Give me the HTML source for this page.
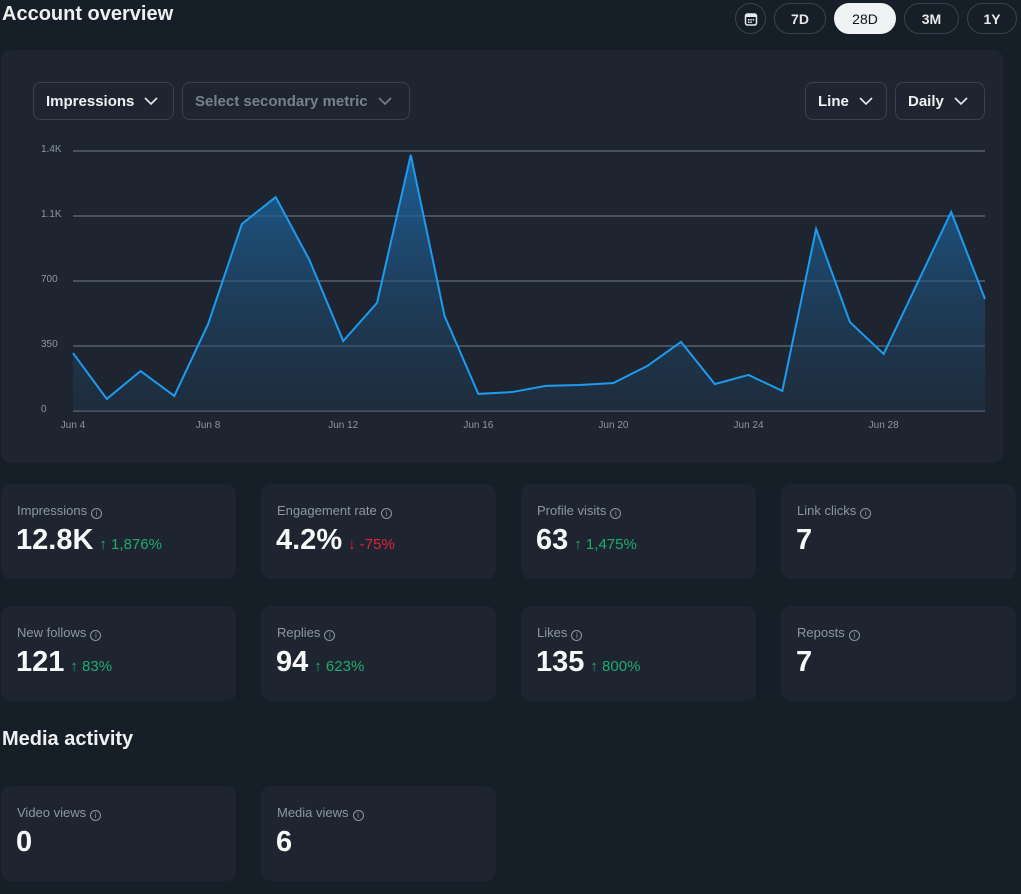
<!DOCTYPE html>
<html><head><meta charset="utf-8">
<style>
*{box-sizing:border-box;margin:0;padding:0}
body{width:1021px;height:894px;background:#161e27;font-family:"Liberation Sans",sans-serif;color:#e7e9ea;position:relative;overflow:hidden}
.abs{position:absolute}
h1{position:absolute;left:2px;top:3px;font-size:20px;font-weight:bold;color:#eef0f1}
.pill{position:absolute;top:3px;height:31px;border:1px solid #3a434d;border-radius:16px;font-size:14px;font-weight:bold;display:flex;align-items:center;justify-content:center;color:#e7e9ea}
.panel{position:absolute;left:1px;top:50px;width:1002px;height:413px;background:#1e2530;border-radius:10px}
.dd{position:absolute;top:82px;height:38px;border:1px solid #38414c;border-radius:8px;font-size:15px;font-weight:bold;display:flex;align-items:center;padding-left:12px;color:#eef0f1}
.dd svg{margin-left:10px}
.card{position:absolute;width:235px;height:95px;background:#1e2530;border-radius:10px}
.lab{position:absolute;left:16px;top:19px;font-size:13px;color:#8d97a1}
.lab .i{display:inline-block;width:11px;height:11px;border:1.3px solid #8d97a1;border-radius:50%;font-size:8px;text-align:center;line-height:9px;margin-left:4px;vertical-align:-1px}
.val{position:absolute;left:15px;top:40px;font-size:29px;font-weight:bold;color:#f7f9f9}
.chg{font-size:15px;font-weight:normal;margin-left:6px}
.up{color:#1fab6e}.dn{color:#e0243a}
h2{position:absolute;left:2px;top:728px;font-size:20px;font-weight:bold;color:#eef0f1}
</style></head><body>
<h1>Account overview</h1>
<div class="pill" style="left:735px;width:31px;">
<svg width="14" height="14" viewBox="0 0 14 14"><rect x="1.5" y="2" width="11" height="11" rx="2" fill="none" stroke="#e7e9ea" stroke-width="1.5"/><rect x="1.5" y="2" width="11" height="3" fill="#e7e9ea"/><g fill="#e7e9ea"><rect x="4" y="7" width="1.5" height="1.5"/><rect x="6.3" y="7" width="1.5" height="1.5"/><rect x="8.6" y="7" width="1.5" height="1.5"/><rect x="4" y="9.5" width="1.5" height="1.5"/><rect x="6.3" y="9.5" width="1.5" height="1.5"/></g></svg></div>
<div class="pill" style="left:774px;width:52px;">7D</div>
<div class="pill" style="left:834px;width:62px;background:#eff3f4;color:#0f1419;font-weight:normal;border-color:#eff3f4">28D</div>
<div class="pill" style="left:904px;width:55px;">3M</div>
<div class="pill" style="left:967px;width:50px;">1Y</div>

<div class="panel"></div>
<div class="dd" style="left:33px;width:141px;">Impressions<svg width="14" height="8"><path d="M1 1l6 6 6-6" stroke="#e7e9ea" stroke-width="1.6" fill="none"/></svg></div>
<div class="dd" style="left:182px;width:228px;color:#77818b">Select secondary metric<svg width="14" height="8"><path d="M1 1l6 6 6-6" stroke="#77818b" stroke-width="1.6" fill="none"/></svg></div>
<div class="dd" style="left:805px;width:82px;">Line<svg width="14" height="8"><path d="M1 1l6 6 6-6" stroke="#e7e9ea" stroke-width="1.6" fill="none"/></svg></div>
<div class="dd" style="left:895px;width:90px;">Daily<svg width="14" height="8"><path d="M1 1l6 6 6-6" stroke="#e7e9ea" stroke-width="1.6" fill="none"/></svg></div>

<svg id="chart" class="abs" style="left:0;top:0" width="1021" height="470">
<defs><linearGradient id="g" x1="0" y1="0" x2="0" y2="1"><stop offset="0" stop-color="#1d6aa8" stop-opacity="0.85"/><stop offset="1" stop-color="#1d3a55" stop-opacity="0.35"/></linearGradient></defs>
</svg>

<div class="card" style="left:1px;top:484px"><div class="lab">Impressions<span class="i">i</span></div><div class="val">12.8K<span class="chg up">↑ 1,876%</span></div></div>
<div class="card" style="left:261px;top:484px"><div class="lab">Engagement rate<span class="i">i</span></div><div class="val">4.2%<span class="chg dn">↓ -75%</span></div></div>
<div class="card" style="left:521px;top:484px"><div class="lab">Profile visits<span class="i">i</span></div><div class="val">63<span class="chg up">↑ 1,475%</span></div></div>
<div class="card" style="left:781px;top:484px"><div class="lab">Link clicks<span class="i">i</span></div><div class="val">7</div></div>
<div class="card" style="left:1px;top:606px"><div class="lab">New follows<span class="i">i</span></div><div class="val">121<span class="chg up">↑ 83%</span></div></div>
<div class="card" style="left:261px;top:606px"><div class="lab">Replies<span class="i">i</span></div><div class="val">94<span class="chg up">↑ 623%</span></div></div>
<div class="card" style="left:521px;top:606px"><div class="lab">Likes<span class="i">i</span></div><div class="val">135<span class="chg up">↑ 800%</span></div></div>
<div class="card" style="left:781px;top:606px"><div class="lab">Reposts<span class="i">i</span></div><div class="val">7</div></div>
<h2>Media activity</h2>
<div class="card" style="left:1px;top:786px"><div class="lab">Video views<span class="i">i</span></div><div class="val">0</div></div>
<div class="card" style="left:261px;top:786px"><div class="lab">Media views<span class="i">i</span></div><div class="val">6</div></div>

<script>
const values=[312,65,215,81,468,1007,1152,813,377,582,1379,512,92,102,135,140,151,242,372,145,194,108,980,479,307,689,1072,603];
const yTicks=[0,350,700,1050,1400];
const yTickLabels=["0","350","700","1.1K","1.4K"];
const xTickIdx=[0,4,8,12,16,20,24];
const xTickLabels=["Jun 4","Jun 8","Jun 12","Jun 16","Jun 20","Jun 24","Jun 28"];
const NS="http://www.w3.org/2000/svg";
const svg=document.getElementById('chart');
const x0=73,x1=985,y0=411,y1=151,yMax=1400;
function xs(i){return x0+(x1-x0)*i/(values.length-1);}
function ys(v){return y0-(y0-y1)*v/yMax;}
function mk(t,a){const e=document.createElementNS(NS,t);for(const k in a)e.setAttribute(k,a[k]);svg.appendChild(e);return e;}
yTicks.forEach((v,i)=>{
  const l=mk('line',{x1:x0,x2:x1,y1:ys(v),y2:ys(v),stroke:'#56626e','stroke-width':1.6});
  
  
  const t=mk('text',{x:41,y:ys(v)+1,fill:'#8d97a1','font-size':10,'font-family':'Liberation Sans, sans-serif'});
  t.textContent=yTickLabels[i];
  
  
});
xTickIdx.forEach((idx,i)=>{
  const t=mk('text',{x:xs(idx),y:428,fill:'#8d97a1','font-size':10,'text-anchor':'middle','font-family':'Liberation Sans, sans-serif'});
  t.textContent=xTickLabels[i];
  
  
});
let pts=values.map((v,i)=>xs(i)+','+ys(v)).join(' ');
const area=mk('polygon',{points:x0+','+y0+' '+pts+' '+x1+','+y0,fill:'url(#g)'});


const line=mk('polyline',{points:pts,fill:'none',stroke:'#1d9bf0','stroke-width':2,'stroke-linejoin':'miter'});


</script>
</body></html>
